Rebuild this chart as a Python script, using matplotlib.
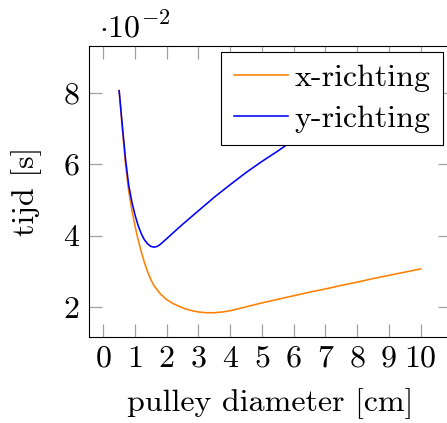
import matplotlib
matplotlib.use("Agg")
import matplotlib.pyplot as plt
from matplotlib.ticker import FixedLocator

plt.rcParams['font.family'] = ['cmr10', 'DejaVu Serif']
plt.rcParams['mathtext.fontset'] = 'cm'
plt.rcParams['axes.formatter.use_mathtext'] = True

# data (y values in units of 1e-2 s)
x_orange = [0.5, 0.6, 0.7, 0.8, 0.9, 1.0, 1.1, 1.2, 1.3, 1.4, 1.5, 1.6, 1.8, 2.0, 2.2, 2.4,
            2.6, 2.8, 3.0, 3.25, 3.5, 3.75, 4.0, 4.5, 5.0, 5.5, 6.0, 6.5, 7.0, 7.5, 8.0,
            8.5, 9.0, 9.5, 10.0]
y_orange = [8.06, 7.00, 6.00, 5.25, 4.72, 4.27, 3.88, 3.54, 3.24, 2.98, 2.77, 2.60, 2.37, 2.21,
            2.10, 2.02, 1.95, 1.90, 1.865, 1.845, 1.845, 1.865, 1.90, 2.01, 2.12, 2.22, 2.32,
            2.42, 2.51, 2.61, 2.70, 2.80, 2.89, 2.98, 3.07]

x_blue = [0.5, 0.6, 0.7, 0.8, 0.9, 1.0, 1.1, 1.2, 1.3, 1.4, 1.5, 1.6, 1.7, 1.8, 2.0, 2.2, 2.5,
          3.0, 3.5, 4.0, 4.5, 5.0, 5.5, 6.0, 6.5, 7.0, 7.5, 8.0, 8.5, 9.0, 9.5, 10.0]
y_blue = [8.06, 7.08, 6.15, 5.42, 4.95, 4.58, 4.28, 4.05, 3.88, 3.77, 3.70, 3.68, 3.70, 3.76,
          3.92, 4.08, 4.32, 4.70, 5.08, 5.43, 5.77, 6.08, 6.37, 6.68, 6.95, 7.22, 7.48, 7.73,
          7.97, 8.20, 8.42, 8.63]

labels = ["x-richting", "y-richting"]
xticks = list(range(0, 11))
yticks = [2, 4, 6, 8]

W, H = 447, 423
fig = plt.figure(figsize=(W / 100, H / 100), dpi=100)
L, R, T, B = 89, 450.8, 46, 337
ax = fig.add_axes([L / W, 1 - B / H, (R - L) / W, (B - T) / H])

ax.plot(x_orange, y_orange, color='#ff8000', lw=1.15, label=labels[0])
ax.plot(x_blue, y_blue, color='#0000ff', lw=1.15, label=labels[1])

ax.set_xlim(-0.45, 10.95)
ax.set_ylim(1.165, 9.31)
ax.xaxis.set_major_locator(FixedLocator(xticks))
ax.yaxis.set_major_locator(FixedLocator(yticks))
ax.set_xticklabels([str(t) for t in xticks])
ax.set_yticklabels([str(t) for t in yticks])

fs = 23
ax.tick_params(direction='in', length=9.4, width=0.9, color='#a0a0a0',
               top=True, right=True, labelsize=fs, pad=6)
ax.tick_params(axis='y', pad=7)
for s in ax.spines.values():
    s.set_linewidth(0.8)
    s.set_color('black')

ax.set_xlabel('pulley diameter [cm]', fontsize=fs, labelpad=11)
ax.set_ylabel('tijd [s]', fontsize=fs, labelpad=15)

fig.text(99 / W, 1 - 37 / H, r'$\cdot 10^{-2}$', fontsize=fs, ha='left', va='baseline')

leg = ax.legend(loc='upper right', bbox_to_anchor=((443 - L) / (R - L), (B - 52) / (B - T)),
                borderaxespad=0, fancybox=False, edgecolor='black', framealpha=1,
                fontsize=fs, handlelength=1.7, handletextpad=0.22, labelspacing=0.38,
                borderpad=0.38)
leg.get_frame().set_linewidth(0.8)

fig.savefig('out.png', dpi=100)
